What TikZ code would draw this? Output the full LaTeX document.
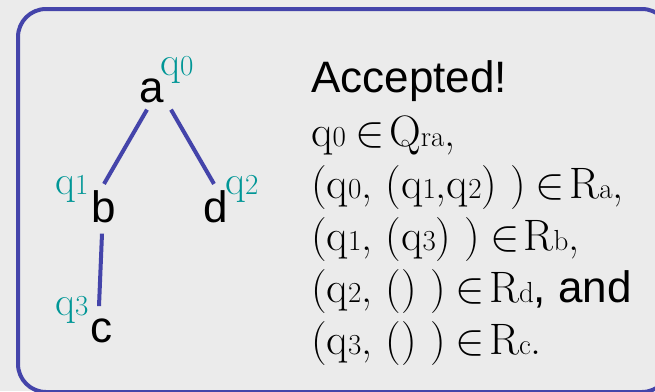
\RequirePackage{fix-cm}
\documentclass[tikz,border=0pt]{standalone}
\usepackage{fontspec}
\newfontfamily\arial{Liberation Sans}
\definecolor{framecol}{RGB}{68,68,170}
\definecolor{qcol}{RGB}{0,150,150}
\definecolor{bgcol}{RGB}{235,235,235}
\newcommand\qsub[1]{{\fontsize{29}{29}\selectfont #1}}
\newcommand\lmsz{\fontsize{44}{48}\selectfont}
\newcommand\qlsz{\fontsize{41}{44}\selectfont}
\newcommand\elem{\hspace{0.22em}$\in$\hspace{0.1em}}
\newcommand\andtxt{{\arial\fontsize{44}{44}\selectfont, and}}
\tikzset{
  tletter/.style={inner sep=0pt, anchor=base, font=\arial\fontsize{44}{44}\selectfont},
  qlabel/.style={inner sep=0pt, anchor=base west, text=qcol, font=\qlsz},
  mline/.style={inner sep=0pt, anchor=base west, font=\lmsz},
  edge/.style={draw=framecol, line width=4pt},
}
\begin{document}
\begin{tikzpicture}[x=1pt,y=-1pt]
\useasboundingbox (0,0) rectangle (655,391);
\fill[bgcol] (0,0) rectangle (655,391);
\begin{scope}
\clip (0,0) rectangle (655,391);
\draw[framecol, line width=4pt, rounded corners=28pt] (18,9) rectangle (670,392);
\end{scope}
% tree
\node[tletter] (a) at (152,102) {a};
\node[tletter] (b) at (104,222) {b};
\node[tletter] (d) at (216,222) {d};
\node[tletter] (c) at (101,342) {c};
\node[qlabel] (q0) at (160,75) {q\qsub{0}};
\node[qlabel] (q1) at (55,194) {q\qsub{1}};
\node[qlabel] (q2) at (225,194) {q\qsub{2}};
\node[qlabel] (q3) at (55,315) {q\qsub{3}};
\draw[edge] ([xshift=-5pt,yshift=-7pt]a.south) -- ([yshift=6pt]b.north);
\draw[edge] ([xshift=19pt,yshift=-7pt]a.south) -- ([xshift=-2pt,yshift=6pt]d.north);
\draw[edge] ([xshift=-2pt,yshift=-11pt]b.south) -- ([xshift=-2pt,yshift=12pt]c.north);
% text
\node[inner sep=0pt, anchor=base west, font=\arial\fontsize{44}{44}\selectfont] (acc) at (311,92) {Accepted!};
\node[mline] (l1) at (311,146) {q\qsub{0}\elem Q\qsub{ra},};
\node[mline] (l2) at (311,198) {(q\qsub{0}, (q\qsub{1},q\qsub{2}) )\elem R\qsub{a},};
\node[mline] (l3) at (311,250) {(q\qsub{1}, (q\qsub{3}) )\elem R\qsub{b},};
\node[mline] (l4) at (311,302) {(q\qsub{2}, () )\elem R\qsub{d}\andtxt};
\node[mline] (l5) at (311,354) {(q\qsub{3}, () )\elem R\qsub{c}.};
\end{tikzpicture}
\end{document}
